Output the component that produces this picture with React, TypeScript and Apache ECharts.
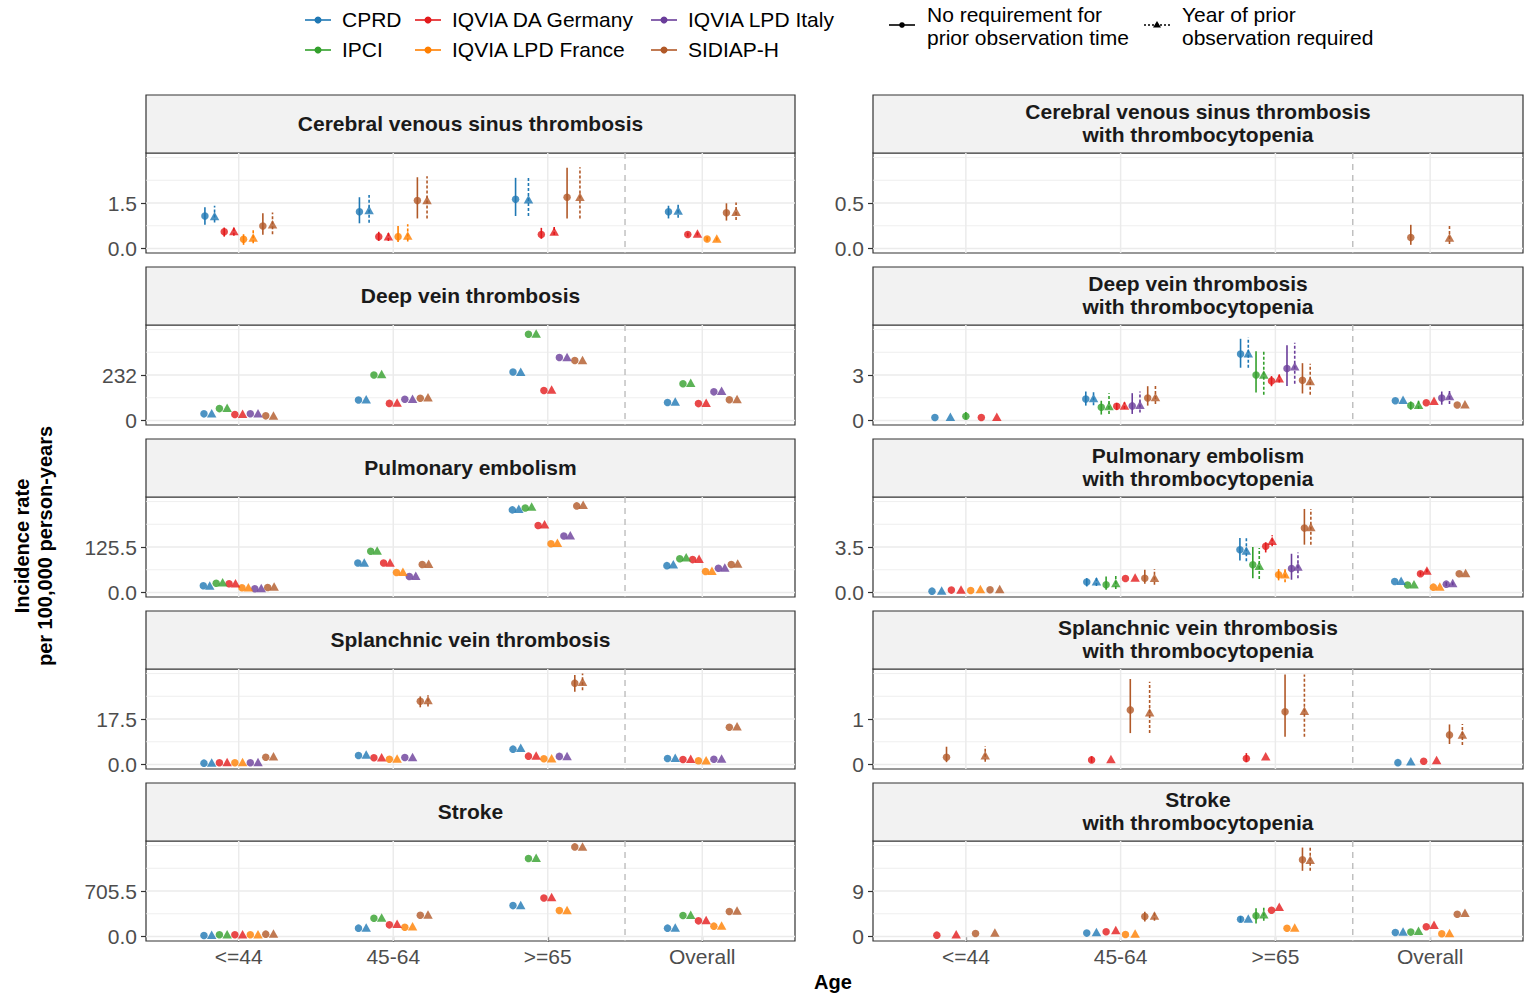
import React, { useEffect, useRef } from "react";
import * as echarts from "echarts";

// ---------- data ----------
const AGE_GROUPS = ["<=44", "45-64", ">=65", "Overall"];
const DATABASES = ["CPRD", "IPCI", "IQVIA DA Germany", "IQVIA LPD France", "IQVIA LPD Italy", "SIDIAP-H"];
const OUTCOMES = [
  "Cerebral venous sinus thrombosis",
  "Deep vein thrombosis",
  "Pulmonary embolism",
  "Splanchnic vein thrombosis",
  "Stroke",
];
const TCP_SUFFIX = "with thrombocytopenia";
const Y_BREAKS_ALL = [1.5, 232, 125.5, 17.5, 705.5];
const Y_BREAKS_TCP = [0.5, 3, 3.5, 1, 9];
const REQ_LABELS = ["No requirement for\nprior observation time", "Year of prior\nobservation required"];

// Row: [age index, database index, rate (no req), lower, upper, rate (1y prior obs), lower, upper]
type Row = [number, number, number | null, number | null, number | null, number | null, number | null, number | null];

const cvst: Row[] = [
  [0, 0, 1.07, 0.78, 1.36, 1.07, 0.86, 1.41],
  [0, 2, 0.55, 0.39, 0.69, 0.58, 0.42, 0.72],
  [0, 3, 0.3, 0.12, 0.47, 0.36, 0.17, 0.61],
  [0, 5, 0.74, 0.45, 1.16, 0.8, 0.47, 1.19],
  [1, 0, 1.21, 0.83, 1.69, 1.27, 0.85, 1.76],
  [1, 2, 0.39, 0.25, 0.55, 0.4, 0.25, 0.55],
  [1, 3, 0.39, 0.21, 0.74, 0.43, 0.23, 0.8],
  [1, 5, 1.58, 0.99, 2.35, 1.6, 0.99, 2.38],
  [2, 0, 1.62, 1.07, 2.33, 1.62, 1.07, 2.33],
  [2, 2, 0.46, 0.32, 0.68, 0.56, 0.44, 0.72],
  [2, 5, 1.69, 0.99, 2.66, 1.71, 0.99, 2.68],
  [3, 0, 1.21, 0.99, 1.41, 1.25, 1.01, 1.45],
  [3, 2, 0.46, 0.4, 0.52, 0.49, 0.43, 0.55],
  [3, 3, 0.31, 0.24, 0.38, 0.33, 0.26, 0.4],
  [3, 5, 1.18, 0.92, 1.49, 1.21, 0.94, 1.52],
];

const dvt: Row[] = [
  [0, 0, 33.6, null, null, 37, null, null],
  [0, 1, 60.5, null, null, 65, null, null],
  [0, 2, 30, null, null, 34, null, null],
  [0, 4, 34, null, null, 37, null, null],
  [0, 5, 23.5, null, null, 25, null, null],
  [1, 0, 104, null, null, 108, null, null],
  [1, 1, 232, null, null, 237, null, null],
  [1, 2, 87, null, null, 92, null, null],
  [1, 4, 108, null, null, 111, null, null],
  [1, 5, 113, null, null, 118, null, null],
  [2, 0, 247, null, null, 249, null, null],
  [2, 1, 440, null, null, 444, null, null],
  [2, 2, 153, null, null, 158, null, null],
  [2, 4, 321, null, null, 324, null, null],
  [2, 5, 306, null, null, 309, null, null],
  [3, 0, 92, null, null, 97, null, null],
  [3, 1, 187, null, null, 192, null, null],
  [3, 2, 86, null, null, 91, null, null],
  [3, 4, 146, null, null, 151, null, null],
  [3, 5, 106, null, null, 109, null, null],
];

const pe: Row[] = [
  [0, 0, 18.3, null, null, 19, null, null],
  [0, 1, 25.6, null, null, 28, null, null],
  [0, 2, 23.8, null, null, 25.6, null, null],
  [0, 3, 12.8, null, null, 14.7, null, null],
  [0, 4, 10, null, null, 12, null, null],
  [0, 5, 13.7, null, null, 16.5, null, null],
  [1, 0, 81.5, null, null, 83, null, null],
  [1, 1, 113.6, null, null, 116, null, null],
  [1, 2, 81.5, null, null, 83, null, null],
  [1, 3, 55, null, null, 57, null, null],
  [1, 4, 44, null, null, 46, null, null],
  [1, 5, 77, null, null, 79, null, null],
  [2, 0, 228, null, null, 231, null, null],
  [2, 1, 233, null, null, 237, null, null],
  [2, 2, 185, null, null, 188, null, null],
  [2, 3, 134.7, null, null, 137, null, null],
  [2, 4, 156, null, null, 157.6, null, null],
  [2, 5, 239, null, null, 242, null, null],
  [3, 0, 74, null, null, 78, null, null],
  [3, 1, 93, null, null, 97, null, null],
  [3, 2, 90.7, null, null, 93, null, null],
  [3, 3, 58, null, null, 60, null, null],
  [3, 4, 67, null, null, 69, null, null],
  [3, 5, 77, null, null, 80, null, null],
];

const svt: Row[] = [
  [0, 0, 0.5, null, null, 0.8, null, null],
  [0, 2, 0.64, null, null, 0.9, null, null],
  [0, 3, 0.64, null, null, 0.9, null, null],
  [0, 4, 0.64, null, null, 0.9, null, null],
  [0, 5, 2.8, null, null, 3.2, null, null],
  [1, 0, 3.45, null, null, 3.8, null, null],
  [1, 2, 2.55, null, null, 2.8, null, null],
  [1, 3, 2.0, null, null, 2.3, null, null],
  [1, 4, 2.7, null, null, 2.9, null, null],
  [1, 5, 24.3, 22.0, 26.2, 24.8, 22.3, 26.6],
  [2, 0, 5.9, null, null, 6.4, null, null],
  [2, 2, 3.2, null, null, 3.45, null, null],
  [2, 3, 2.2, null, null, 2.4, null, null],
  [2, 4, 3.1, null, null, 3.3, null, null],
  [2, 5, 31.3, 28.0, 34.4, 31.8, 28.6, 35.0],
  [3, 0, 2.3, null, null, 2.55, null, null],
  [3, 2, 1.9, null, null, 2.2, null, null],
  [3, 3, 1.4, null, null, 1.66, null, null],
  [3, 4, 2.0, null, null, 2.3, null, null],
  [3, 5, 14.3, null, null, 14.7, null, null],
];

const stroke: Row[] = [
  [0, 0, 15, null, null, 26, null, null],
  [0, 1, 26, null, null, 36, null, null],
  [0, 2, 26, null, null, 36, null, null],
  [0, 3, 26, null, null, 36, null, null],
  [0, 5, 36, null, null, 46, null, null],
  [1, 0, 129, null, null, 139, null, null],
  [1, 1, 283, null, null, 293, null, null],
  [1, 2, 180, null, null, 196, null, null],
  [1, 3, 144, null, null, 160, null, null],
  [1, 5, 329, null, null, 340, null, null],
  [2, 0, 479, null, null, 489, null, null],
  [2, 1, 1210, null, null, 1220, null, null],
  [2, 2, 597, null, null, 613, null, null],
  [2, 3, 402, null, null, 412, null, null],
  [2, 5, 1390, null, null, 1395, null, null],
  [3, 0, 129, null, null, 139, null, null],
  [3, 1, 324, null, null, 335, null, null],
  [3, 2, 242, null, null, 257, null, null],
  [3, 3, 160, null, null, 170, null, null],
  [3, 5, 386, null, null, 402, null, null],
];

const cvstTcp: Row[] = [
  [3, 5, 0.12, 0.04, 0.26, 0.12, 0.05, 0.27],
];

const dvtTcp: Row[] = [
  [0, 0, 0.2, null, null, 0.24, null, null],
  [0, 1, 0.28, 0.08, 0.55, null, null, null],
  [0, 2, 0.2, null, null, 0.24, null, null],
  [1, 0, 1.41, 0.98, 1.91, 1.48, 1.0, 1.91],
  [1, 1, 0.87, 0.39, 1.3, 0.96, 0.43, 1.8],
  [1, 2, 0.93, 0.7, 1.15, 0.98, 0.75, 1.2],
  [1, 4, 0.96, 0.43, 1.8, 1.04, 0.52, 1.91],
  [1, 5, 1.48, 0.98, 2.26, 1.54, 1.09, 2.3],
  [2, 0, 4.39, 3.48, 5.39, 4.43, 3.48, 5.48],
  [2, 1, 3.0, 1.85, 4.57, 3.04, 1.7, 4.6],
  [2, 2, 2.61, 2.26, 2.93, 2.78, 2.5, 3.05],
  [2, 4, 3.43, 2.28, 4.96, 3.57, 2.43, 5.13],
  [2, 5, 2.65, 1.78, 3.78, 2.61, 1.7, 3.74],
  [3, 0, 1.3, null, null, 1.37, null, null],
  [3, 1, 0.98, 0.72, 1.25, 1.04, 0.78, 1.3],
  [3, 2, 1.17, null, null, 1.3, null, null],
  [3, 4, 1.48, 1.04, 1.91, 1.61, 1.09, 2.07],
  [3, 5, 1.02, null, null, 1.07, null, null],
];

const peTcp: Row[] = [
  [0, 0, 0.1, null, null, 0.15, null, null],
  [0, 2, 0.18, null, null, 0.23, null, null],
  [0, 3, 0.15, null, null, 0.26, null, null],
  [0, 5, 0.21, null, null, 0.26, null, null],
  [1, 0, 0.8, 0.46, 1.1, 0.87, 0.5, 1.2],
  [1, 1, 0.59, 0.21, 1.23, 0.72, 0.26, 1.41],
  [1, 2, 1.08, null, null, 1.16, null, null],
  [1, 5, 1.1, 0.67, 1.75, 1.13, 0.6, 1.8],
  [2, 0, 3.29, 2.47, 4.19, 3.24, 2.4, 4.19],
  [2, 1, 2.13, 1.1, 3.5, 2.06, 1.03, 3.42],
  [2, 2, 3.55, 3.08, 3.86, 3.98, 3.55, 4.4],
  [2, 3, 1.36, 0.93, 1.8, 1.41, 0.78, 1.8],
  [2, 4, 1.85, 0.98, 2.98, 2.0, 1.1, 3.08],
  [2, 5, 4.96, 3.68, 6.43, 5.04, 3.68, 6.43],
  [3, 0, 0.85, null, null, 0.9, null, null],
  [3, 1, 0.57, null, null, 0.64, null, null],
  [3, 2, 1.44, 1.3, 1.6, 1.7, 1.55, 1.85],
  [3, 3, 0.41, null, null, 0.46, null, null],
  [3, 4, 0.64, 0.5, 0.8, 0.72, 0.55, 0.9],
  [3, 5, 1.44, null, null, 1.49, null, null],
];

const svtTcp: Row[] = [
  [0, 5, 0.16, 0.05, 0.39, 0.2, 0.06, 0.4],
  [1, 2, 0.1, 0.04, 0.18, 0.12, null, null],
  [1, 5, 1.2, 0.69, 1.88, 1.15, 0.69, 1.82],
  [2, 2, 0.13, 0.05, 0.25, 0.18, null, null],
  [2, 5, 1.16, 0.61, 1.98, 1.18, 0.61, 1.98],
  [3, 0, 0.04, null, null, 0.07, null, null],
  [3, 2, 0.07, null, null, 0.1, null, null],
  [3, 5, 0.65, 0.45, 0.88, 0.66, 0.43, 0.89],
];

const strokeTcp: Row[] = [
  [0, 2, 0.26, null, null, 0.46, null, null],
  [0, 5, 0.59, null, null, 0.79, null, null],
  [1, 0, 0.66, null, null, 0.86, null, null],
  [1, 2, 0.92, null, null, 1.3, null, null],
  [1, 3, 0.39, null, null, 0.59, null, null],
  [1, 5, 3.95, 2.96, 4.9, 4.14, 3.1, 5.0],
  [2, 0, 3.42, 2.9, 4.0, 3.55, null, null],
  [2, 1, 4.08, 2.57, 5.6, 4.41, 3.09, 6.05],
  [2, 2, 5.2, null, null, 5.86, null, null],
  [2, 3, 1.64, null, null, 1.78, null, null],
  [2, 5, 15.2, 13.0, 17.6, 15.2, 13.0, 17.6],
  [3, 0, 0.79, null, null, 0.99, null, null],
  [3, 1, 0.86, null, null, 1.12, null, null],
  [3, 2, 1.91, null, null, 2.3, null, null],
  [3, 3, 0.53, null, null, 0.66, null, null],
  [3, 5, 4.41, null, null, 4.67, null, null],
];

const ROWS_ALL = [cvst, dvt, pe, svt, stroke];
const ROWS_TCP = [cvstTcp, dvtTcp, peTcp, svtTcp, strokeTcp];

// ---------- style / layout ----------
const DB_COLORS = ["#1F78B4", "#33A02C", "#E31A1C", "#FF7F00", "#6A3D9A", "#B15928"];
const FONT = "'Liberation Sans', Arial, Helvetica, sans-serif";
const COL_X = [146, 873];
const COL_W = [649, 650];
const ROW_Y0 = 95;
const ROW_STEP = 172;
const STRIP_H = 58;
const PLOT_H = 100;
const DODGE = 0.5;

const buildPanel = (rows: Row[]) => {
  const circles: any[] = [];
  const triangles: any[] = [];
  const bars: any[] = [];
  AGE_GROUPS.forEach((_, a) => {
    const groups: { db: number; type: number; est: number; lo: number | null; hi: number | null }[] = [];
    rows
      .filter((r) => r[0] === a)
      .sort((p, q) => p[1] - q[1])
      .forEach((r) => {
        if (r[2] != null) groups.push({ db: r[1], type: 0, est: r[2], lo: r[3], hi: r[4] });
        if (r[5] != null) groups.push({ db: r[1], type: 1, est: r[5], lo: r[6], hi: r[7] });
      });
    const n = groups.length;
    groups.forEach((g, i) => {
      const x = a + 1 + (i - (n - 1) / 2) * (DODGE / n);
      const item = { value: [x, g.est], itemStyle: { color: DB_COLORS[g.db] } };
      (g.type === 0 ? circles : triangles).push(item);
      if (g.lo != null && g.hi != null) bars.push([x, g.lo, g.hi, g.db, g.type]);
    });
  });
  return { circles, triangles, bars };
};

const buildOption = () => {
  const panels: { rows: Row[]; title: string; brk: number; col: number; row: number }[] = [];
  OUTCOMES.forEach((o, i) => {
    panels.push({ rows: ROWS_ALL[i], title: o, brk: Y_BREAKS_ALL[i], col: 0, row: i });
    panels.push({ rows: ROWS_TCP[i], title: o + "\n" + TCP_SUFFIX, brk: Y_BREAKS_TCP[i], col: 1, row: i });
  });

  const grids: any[] = [];
  const xAxes: any[] = [];
  const yAxes: any[] = [];
  const series: any[] = [];
  const graphics: any[] = [];

  panels.forEach((p, k) => {
    const top = ROW_Y0 + p.row * ROW_STEP;
    const B = p.brk;
    const dec = B % 1 === 0 ? 0 : 1;
    const bottomRow = p.row === OUTCOMES.length - 1;
    grids.push({
      left: COL_X[p.col],
      top: top + STRIP_H,
      width: COL_W[p.col],
      height: PLOT_H,
      show: true,
      backgroundColor: "#ffffff",
      borderColor: "#333333",
      borderWidth: 1.2,
      containLabel: false,
      outerBoundsMode: "none",
    });
    xAxes.push({
      gridIndex: k,
      type: "value",
      min: 0.4,
      max: AGE_GROUPS.length + 0.6,
      axisLine: { show: false },
      splitLine: { show: false },
      axisTick: {
        show: bottomRow,
        customValues: AGE_GROUPS.map((_, i) => i + 1),
        length: 5,
        lineStyle: { color: "#333333", width: 1.2 },
      },
      axisLabel: {
        show: bottomRow,
        customValues: AGE_GROUPS.map((_, i) => i + 1),
        formatter: (v: number) => AGE_GROUPS[Math.round(v) - 1] ?? "",
        fontFamily: FONT,
        fontSize: 21,
        color: "#4D4D4D",
        margin: 5,
      },
    });
    yAxes.push({
      gridIndex: k,
      type: "value",
      min: -0.1 * B,
      max: 2.1 * B,
      axisLine: { show: false },
      splitLine: { show: false },
      axisTick: {
        show: true,
        customValues: [0, B],
        length: 5,
        lineStyle: { color: "#333333", width: 1.2 },
      },
      axisLabel: {
        customValues: [0, B],
        formatter: (v: number) => v.toFixed(dec),
        fontFamily: FONT,
        fontSize: 21,
        color: "#4D4D4D",
        margin: 9,
      },
    });

    // grid lines: [kind, value]; 0 = y major, 1 = y minor, 2 = x major, 3 = separator
    const gridData: number[][] = [
      [0, 0],
      [0, B],
      [1, B / 2],
      [1, 1.5 * B],
      [1, 2 * B],
      ...AGE_GROUPS.map((_, i) => [2, i + 1]),
      [3, AGE_GROUPS.length - 0.5],
    ];
    series.push({
      type: "custom",
      xAxisIndex: k,
      yAxisIndex: k,
      z: 1,
      silent: true,
      data: gridData,
      renderItem: (params: any, api: any) => {
        const kind = api.value(0);
        const v = api.value(1);
        const cs = params.coordSys;
        if (kind <= 1) {
          const y = api.coord([1, v])[1];
          return {
            type: "line",
            shape: { x1: cs.x, y1: y, x2: cs.x + cs.width, y2: y },
            style: { stroke: "#EBEBEB", lineWidth: kind === 0 ? 1.5 : 0.8 },
          };
        }
        const x = api.coord([v, 0])[0];
        return {
          type: "line",
          shape: { x1: x, y1: cs.y, x2: x, y2: cs.y + cs.height },
          style:
            kind === 2
              ? { stroke: "#EBEBEB", lineWidth: 1.5 }
              : { stroke: "#BDBDBD", lineWidth: 1.4, lineDash: [6, 5] },
        };
      },
    });

    const { circles, triangles, bars } = buildPanel(p.rows);
    series.push({
      type: "custom",
      xAxisIndex: k,
      yAxisIndex: k,
      z: 2,
      silent: true,
      encode: { x: 0, y: [1, 2] },
      data: bars,
      renderItem: (params: any, api: any) => {
        const x = api.value(0);
        const p1 = api.coord([x, api.value(1)]);
        const p2 = api.coord([x, api.value(2)]);
        const dashed = api.value(4) === 1;
        return {
          type: "line",
          shape: { x1: p1[0], y1: p1[1], x2: p2[0], y2: p2[1] },
          style: {
            stroke: DB_COLORS[api.value(3)],
            lineWidth: 1.6,
            lineDash: dashed ? [3, 2] : null,
          },
        };
      },
    });
    series.push({
      type: "scatter",
      xAxisIndex: k,
      yAxisIndex: k,
      z: 3,
      silent: true,
      symbol: "circle",
      symbolSize: 7.5,
      data: circles,
    });
    series.push({
      type: "scatter",
      xAxisIndex: k,
      yAxisIndex: k,
      z: 3,
      silent: true,
      symbol: "triangle",
      symbolSize: [9.5, 8.5],
      data: triangles,
    });

    // facet strip
    graphics.push({
      type: "rect",
      silent: true,
      shape: { x: COL_X[p.col], y: top, width: COL_W[p.col], height: STRIP_H },
      style: { fill: "#F2F2F2", stroke: "#333333", lineWidth: 1.2 },
    });
    graphics.push({
      type: "text",
      silent: true,
      x: COL_X[p.col] + COL_W[p.col] / 2,
      y: top + STRIP_H / 2 - 1,
      style: {
        text: p.title,
        fontFamily: FONT,
        fontSize: 21,
        fontWeight: "bold",
        fill: "#1A1A1A",
        align: "center",
        verticalAlign: "middle",
        lineHeight: 23,
      },
    });
  });

  // legend: databases (2 rows, filled column-wise)
  const LEG_COL_X = [305, 415, 651];
  const LEG_ROW_Y = [20, 50];
  DATABASES.forEach((name, i) => {
    const cx = LEG_COL_X[Math.floor(i / 2)];
    const cy = LEG_ROW_Y[i % 2];
    graphics.push({
      type: "line",
      silent: true,
      shape: { x1: cx, y1: cy, x2: cx + 26, y2: cy },
      style: { stroke: DB_COLORS[i], lineWidth: 1.6 },
    });
    graphics.push({
      type: "circle",
      silent: true,
      shape: { cx: cx + 13, cy, r: 3.5 },
      style: { fill: DB_COLORS[i] },
    });
    graphics.push({
      type: "text",
      silent: true,
      x: cx + 37,
      y: cy - 1,
      style: {
        text: name,
        fontFamily: FONT,
        fontSize: 21,
        fill: "#000000",
        align: "left",
        verticalAlign: "middle",
      },
    });
  });

  // legend: prior observation requirement
  const REQ_X = [889, 1144];
  const REQ_Y = 25;
  REQ_LABELS.forEach((label, i) => {
    const x = REQ_X[i];
    graphics.push({
      type: "line",
      silent: true,
      shape: { x1: x, y1: REQ_Y, x2: x + 26, y2: REQ_Y },
      style: { stroke: "#000000", lineWidth: 1.6, lineDash: i === 1 ? [2, 2] : null },
    });
    if (i === 0) {
      graphics.push({
        type: "circle",
        silent: true,
        shape: { cx: x + 13, cy: REQ_Y, r: 2.8 },
        style: { fill: "#000000" },
      });
    } else {
      graphics.push({
        type: "polygon",
        silent: true,
        shape: { points: [[x + 13, REQ_Y - 4], [x + 17, REQ_Y + 2.5], [x + 9, REQ_Y + 2.5]] },
        style: { fill: "#000000" },
      });
    }
    graphics.push({
      type: "text",
      silent: true,
      x: x + 38,
      y: REQ_Y + 1,
      style: {
        text: label,
        fontFamily: FONT,
        fontSize: 21,
        fill: "#000000",
        align: "left",
        verticalAlign: "middle",
        lineHeight: 23,
      },
    });
  });

  // axis titles
  graphics.push({
    type: "text",
    silent: true,
    x: 833,
    y: 982,
    style: {
      text: "Age",
      fontFamily: FONT,
      fontSize: 20,
      fontWeight: "bold",
      fill: "#000000",
      align: "center",
      verticalAlign: "middle",
    },
  });
  graphics.push({
    type: "text",
    silent: true,
    x: 33,
    y: 546,
    rotation: Math.PI / 2,
    style: {
      text: "Incidence rate\nper 100,000 person-years",
      fontFamily: FONT,
      fontSize: 20,
      fontWeight: "bold",
      fill: "#000000",
      align: "center",
      verticalAlign: "middle",
      lineHeight: 23,
    },
  });

  return {
    animation: false,
    backgroundColor: "#ffffff",
    textStyle: { fontFamily: FONT },
    grid: grids,
    xAxis: xAxes,
    yAxis: yAxes,
    series,
    graphic: graphics,
  };
};

export default function App() {
  const ref = useRef<HTMLDivElement>(null);
  useEffect(() => {
    if (!ref.current) return;
    const chart = echarts.init(ref.current, undefined, { renderer: "svg" });
    chart.setOption(buildOption() as any);
    return () => chart.dispose();
  }, []);
  return (
    <div
      ref={ref}
      style={{ position: "absolute", left: 0, top: 0, width: 1527, height: 998, background: "#fff" }}
    />
  );
}
